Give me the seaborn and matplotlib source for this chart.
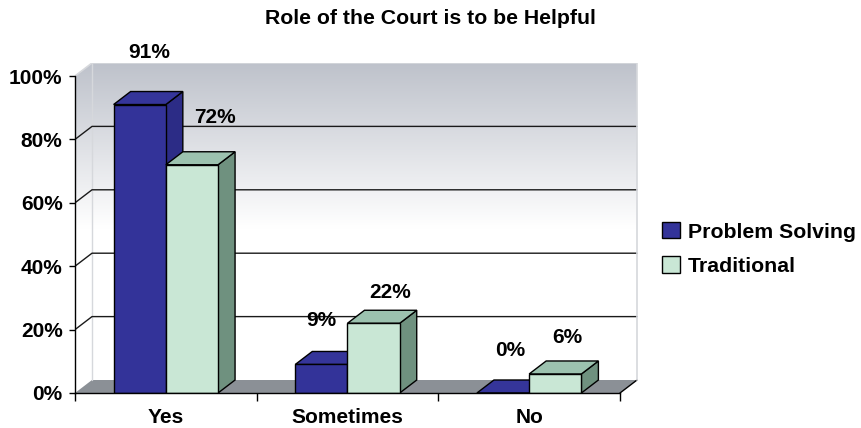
import numpy as np
import pandas as pd
import matplotlib
matplotlib.use("Agg")
import matplotlib.pyplot as plt
import seaborn as sns
from matplotlib.patches import Polygon
from matplotlib.colors import LinearSegmentedColormap
from matplotlib.ticker import FixedLocator

# Data
categories = ["Yes", "Sometimes", "No"]
series_names = ["Problem Solving", "Traditional"]
problem_solving = [91, 9, 0]
traditional = [72, 22, 6]
y_ticks = [0, 20, 40, 60, 80, 100]
title = "Role of the Court is to be Helpful"

# Style
BLUE, BLUE_TOP, BLUE_SIDE = "#333399", "#35359a", "#2c2c86"
GREEN, GREEN_TOP, GREEN_SIDE = "#c9e7d5", "#9cc2af", "#6f917f"
FLOOR = "#8b9096"
WALL_TOP = "#bec2cb"
DEPTH_PX = (17, 13)  # fake 3D depth (right, up)
# label nudges in pixels from the top centre of each front face
nudge_ps = [(9, 52), (0, 44), (7, 42)]
nudge_tr = [(23, 47), (17, 31), (12, 36)]

df = pd.DataFrame({
    "answer": categories * 2,
    "share": problem_solving + traditional,
    "court": [series_names[0]] * 3 + [series_names[1]] * 3,
})

sns.set_theme(style="ticks")
plt.rcParams["font.family"] = ["Liberation Sans", "DejaVu Sans"]
plt.rcParams.update({"text.color": "black", "xtick.color": "black",
                     "ytick.color": "black", "axes.edgecolor": "black"})

W, H = 861, 428
fig = plt.figure(figsize=(W / 100, H / 100), dpi=100)
ax = fig.add_axes([75 / W, 35 / H, 563 / W, 330 / H])
ax.patch.set_visible(False)

sns.barplot(data=df, x="answer", y="share", hue="court", order=categories,
            hue_order=series_names, palette=[BLUE, GREEN], saturation=1,
            width=0.575, edgecolor="black", linewidth=1, errorbar=None, ax=ax)

# axis limits so that 0..100 spans the front axis and the back wall sits above
x_per_px = 3 / 545
y_per_px = 100 / 317
xmax = -0.5 + 563 * x_per_px
ymax = 330 * y_per_px
dx, dy = DEPTH_PX[0] * x_per_px, DEPTH_PX[1] * y_per_px

# back + side wall with vertical gradient
cmap = LinearSegmentedColormap.from_list("wall", ["white", "white", WALL_TOP], N=256)
grad = np.linspace(0, 1, 256)[:, None]
wall_shape = Polygon([(-0.5, 0), (-0.5 + dx, dy), (2.5 + dx, dy), (2.5 + dx, 100 + dy),
                      (-0.5 + dx, 100 + dy), (-0.5, 100)], closed=True,
                     transform=ax.transData, facecolor="none", edgecolor="none")
ax.add_patch(wall_shape)
img = ax.imshow(grad, cmap=cmap, origin="lower", aspect="auto",
                extent=[-0.5, 2.5 + dx, 0, 100 + dy], zorder=0, interpolation="bilinear")
img.set_clip_path(wall_shape)

# floor
ax.add_patch(Polygon([(-0.5, 0), (2.5, 0), (2.5 + dx, dy), (-0.5 + dx, dy)],
                     closed=True, facecolor=FLOOR, edgecolor="none", zorder=1))
ax.plot([2.5, 2.5 + dx], [0, dy], color="black", lw=1, zorder=1.2)

# grid lines on the wall
for v in y_ticks[1:-1]:
    ax.plot([-0.5, -0.5 + dx, 2.5 + dx], [v, v + dy, v + dy],
            color="#1a1a1a", lw=1, zorder=1.5)
edge = "#d6d8dc"
ax.plot([-0.5, -0.5 + dx, 2.5 + dx, 2.5 + dx], [100, 100 + dy, 100 + dy, dy],
        color=edge, lw=1.2, zorder=1.5)
ax.plot([-0.5 + dx, -0.5 + dx], [dy, 100 + dy], color=edge, lw=1, zorder=1.1)

# 3D sides and tops for each bar
shades = [(BLUE_TOP, BLUE_SIDE, 3), (GREEN_TOP, GREEN_SIDE, 4)]
for cont, (top_c, side_c, z) in zip(ax.containers, shades):
    for p in cont:
        x0, w, h = p.get_x(), p.get_width(), p.get_height()
        p.set_zorder(z + 0.2)
        ax.add_patch(Polygon([(x0 + w, 0), (x0 + w + dx, dy), (x0 + w + dx, h + dy), (x0 + w, h)],
                             closed=True, facecolor=side_c, edgecolor="black", lw=1, zorder=z))
        ax.add_patch(Polygon([(x0, h), (x0 + w, h), (x0 + w + dx, h + dy), (x0 + dx, h + dy)],
                             closed=True, facecolor=top_c, edgecolor="black", lw=1, zorder=z + 0.1))

# value labels
for cont, vals, nudges in zip(ax.containers, [problem_solving, traditional], [nudge_ps, nudge_tr]):
    for p, v, (nx, ny) in zip(cont, vals, nudges):
        ax.annotate(f"{v}%", xy=(p.get_x() + p.get_width() / 2, p.get_height()),
                    xytext=(nx, ny), textcoords="offset pixels", ha="center", va="center",
                    fontsize=15, fontweight="bold", zorder=6)

ax.set_xlim(-0.5, xmax)
ax.set_ylim(0, ymax)

for s in ["top", "right"]:
    ax.spines[s].set_visible(False)
ax.spines["left"].set_bounds(0, 100)
ax.spines["bottom"].set_bounds(-0.5, 2.5)
ax.spines["left"].set_linewidth(1)
ax.spines["bottom"].set_linewidth(1)
ax.spines["left"].set_zorder(5)
ax.spines["bottom"].set_zorder(5)

ax.set_yticks(y_ticks)
ax.set_yticklabels([f"{v}%" for v in y_ticks], fontsize=15, fontweight="bold")
ax.tick_params(axis="y", length=4, width=1, pad=5, left=True)
ax.set_xticks(range(len(categories)))
ax.set_xticklabels(categories, fontsize=15, fontweight="bold")
ax.tick_params(axis="x", which="major", length=0, pad=11)
ax.xaxis.set_minor_locator(FixedLocator([-0.5, 0.5, 1.5, 2.5]))
ax.tick_params(axis="x", which="minor", length=6, width=1, bottom=True)
ax.set_xlabel("")
ax.set_ylabel("")

handles, labels = ax.get_legend_handles_labels()
ax.get_legend().remove()
fig.legend(handles, labels, loc="center left", bbox_to_anchor=(662 / W, 1 - 249 / H),
           frameon=False, prop={"size": 15.3, "weight": "bold"}, handlelength=0.85,
           handleheight=0.8, handletextpad=0.38, labelspacing=0.7,
           borderpad=0, borderaxespad=0)

fig.text(0.5, 1 - 18 / H, title, ha="center", va="center", fontsize=15.3, fontweight="bold")

fig.savefig("out.png", dpi=100)
